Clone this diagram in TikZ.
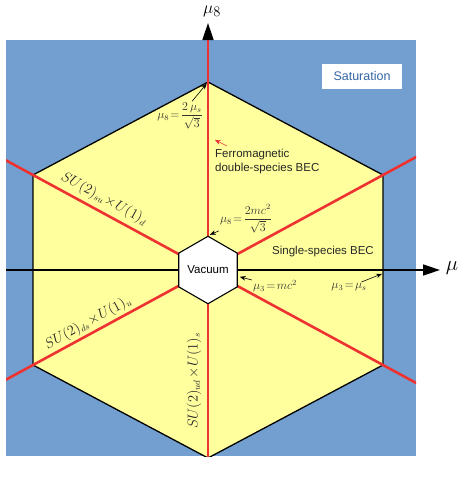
\documentclass[tikz,border=0pt]{standalone}
\usepackage[no-math]{fontspec}
\setmainfont{Liberation Sans}
\usepackage{amsmath}
\usetikzlibrary{arrows.meta, positioning, shapes.geometric, calc}
\definecolor{satblue}{RGB}{114, 159, 207}
\definecolor{phaseyellow}{RGB}{255, 255, 158}
\definecolor{linered}{RGB}{238, 50, 50}
\definecolor{textblue}{RGB}{52, 101, 164}
\tikzset{
    phase/.style = {draw=black, fill=phaseyellow, line width=1.3pt, line join=miter},
    boundary/.style = {linered, line width=2.6pt},
    axis/.style = {black, line width=1.6pt, -{Triangle[length=17pt, width=11pt]}},
    pointer/.style = {-{Stealth[length=6pt, width=4.5pt]}, line width=0.6pt, shorten >=2pt},
    redpointer/.style = {pointer, linered},
    lbl/.style = {font=\fontsize{11.5}{13.5}\selectfont, text=black!85, inner sep=0pt},
    eqn/.style = {font=\fontsize{11.5}{13}\selectfont, text=black!80, inner sep=1pt},
    group/.style = {font=\fontsize{13.5}{15}\selectfont, text=black!85, inner sep=0pt},
    vacuum/.style = {regular polygon, regular polygon sides=6, shape border rotate=90,
                     minimum size=60pt, inner sep=0pt, draw=black, fill=white, line width=1.1pt,
                     font=\fontsize{11.5}{13.5}\selectfont}
}

\begin{document}
\begin{tikzpicture}[x=1pt, y=-1pt]
  \useasboundingbox (0,0) rectangle (461,485);
  \fill[satblue] (6,40) rectangle (416,456);

  % phase diagram
  \coordinate (O) at (208,270);
  \coordinate (top) at (208,82);
  \coordinate (ur) at (383,175);
  \coordinate (lr) at (383,365);
  \coordinate (bot) at (208,458);
  \coordinate (ll) at (33,365);
  \coordinate (ul) at (33,175);

  \draw[axis] (O) -- (208,23);
  \begin{scope}
    \clip (6,40) rectangle (416,456);
    \draw[phase] (top) -- (ur) -- (lr) -- (bot) -- (ll) -- (ul) -- cycle;
    \draw[boundary] (O) -- ($(O)!1.5!(top)$);
    \draw[boundary] (O) -- ($(O)!1.5!(bot)$);
    \foreach \v in {ul, ur, ll, lr}
      \draw[boundary] (O) -- ($(O)!1.4!(\v)$);
  \end{scope}
  \draw[axis] (6,270) -- (440,270);

  \node[vacuum] (vac) at (O) {Vacuum};

  \node[font=\fontsize{19}{20}\selectfont] (mu8) at (212,11) {$\mu_8$};
  \node[font=\fontsize{20}{20}\selectfont] (mu) at (452,268) {$\mu$};

  \node[draw=white, fill=white, text=textblue, minimum width=79pt, minimum height=24pt,
        font=\fontsize{12.5}{14}\selectfont] (sat) at (362,76) {Saturation};

  % labels and pointers
  \node[eqn] (eqtop) at (180,116) {$\mu_8\!=\!\dfrac{2\,\mu_s}{\sqrt{3}}$};
  \draw[pointer] (eqtop) -- (top);

  \node[lbl, anchor=north west, align=left] (ferro) at (215,149) {Ferromagnetic\\double-species BEC};
  \coordinate (ferrotip) at (213,139);
  \draw[redpointer] ([xshift=12pt, yshift=3pt]ferro.north west) -- (ferrotip);

  \node[eqn] (eqvac) at (246,219) {$\mu_8\!=\!\dfrac{2mc^2}{\sqrt{3}}$};
  \draw[pointer] (eqvac) -- (vac.90);

  \node[lbl] (single) at (323,252) {Single-species BEC};

  \node[eqn] (eqmc) at (275,286) {$\mu_3\!=\!mc^2$};
  \draw[pointer] (eqmc) -- (vac.-12);

  \node[eqn] (eqmus) at (349,287) {$\mu_3\!=\!\mu_s$};
  \coordinate (edge) at (384,273);
  \draw[pointer] (eqmus) -- (edge);

  \node[group, rotate=-28.5] (su) at (104,199) {$SU(2)_{su}\!\times\! U(1)_d$};
  \node[group, rotate=28.5] (ds) at (88,323) {$SU(2)_{ds}\!\times\! U(1)_u$};
  \node[group, rotate=90] (ud) at (194,381) {$SU(2)_{ud}\!\times\! U(1)_s$};
\end{tikzpicture}
\end{document}
